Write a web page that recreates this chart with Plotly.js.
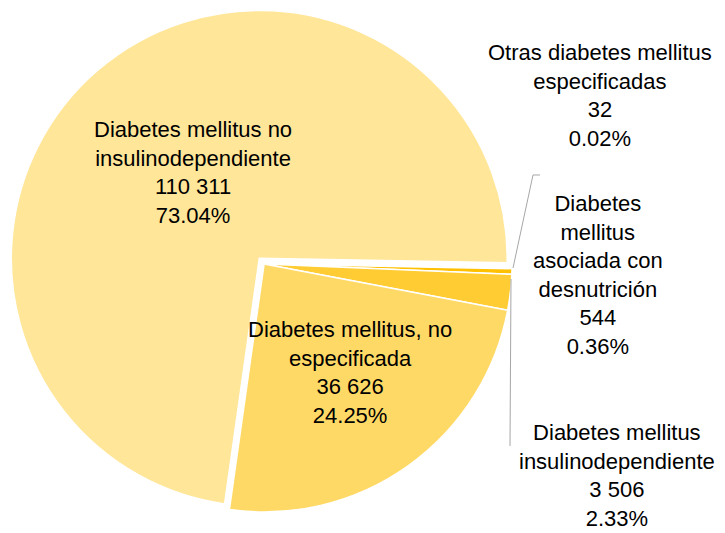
<!DOCTYPE html>
<html>
<head>
<meta charset="utf-8">
<script src="https://cdn.plot.ly/plotly-3.0.1.min.js"></script>
<style>html,body{margin:0;padding:0;background:#fff;}#chart{width:725px;height:533px;}</style>
</head>
<body>
<div id="chart"></div>
<script>
// Data (clockwise order starting at 3 o'clock)
const categories = [
  "Otras diabetes mellitus<br>especificadas",
  "Diabetes<br>mellitus<br>asociada con<br>desnutrición",
  "Diabetes mellitus<br>insulinodependiente",
  "Diabetes mellitus, no<br>especificada",
  "Diabetes mellitus no<br>insulinodependiente"
];
const counts = [32, 544, 3506, 36626, 110311];
const percents = [0.02, 0.36, 2.33, 24.25, 73.04];
const colors = ["#BF9000", "#FFC000", "#FFCC33", "#FFD966", "#FFE699"];

function fmtThousands(v) { return String(v).replace(/\B(?=(\d{3})+(?!\d))/g, " "); }
const labelTexts = categories.map((c, i) => c + "<br>" + fmtThousands(counts[i]) + "<br>" + percents[i].toFixed(2) + "%");

const FONT = "Arial, 'Liberation Sans', sans-serif";
const FS = 22;

const trace = {
  type: "pie",
  values: counts,
  labels: categories,
  textinfo: "none",
  sort: false,
  direction: "clockwise",
  rotation: 91,
  pull: [0, 0, 0, 0, 0.03],
  marker: {colors: colors, line: {color: "#ffffff", width: 1.5}},
  domain: {x: [0.0120, 0.7165], y: [0.0255, 0.9838]},
  hoverinfo: "skip",
  showlegend: false
};

// Label placement (pixel centres of each label block)
const labelPos = [
  {x: 600, y: 96},
  {x: 598, y: 275},
  {x: 617, y: 475},
  {x: 350, y: 372},
  {x: 193, y: 172}
];
const annotations = labelPos.map((p, i) => ({
  xref: "paper", yref: "paper",
  x: p.x / 725, y: 1 - p.y / 533,
  xanchor: "center", yanchor: "middle",
  text: labelTexts[i], showarrow: false, align: "center",
  font: {family: FONT, size: FS, color: "#000"}
}));

function pathPx(pts) {
  return pts.map((p, i) => (i ? "L" : "M") + (p[0] / 725).toFixed(5) + "," + (1 - p[1] / 533).toFixed(5)).join(" ");
}
const shapes = [
  {type: "path", xref: "paper", yref: "paper", path: pathPx([[540, 175], [533, 175], [513, 268]]), line: {color: "#A6A6A6", width: 1}},
  {type: "path", xref: "paper", yref: "paper", path: pathPx([[511, 279], [510, 446]]), line: {color: "#A6A6A6", width: 1}}
];

const layout = {
  width: 725, height: 533,
  margin: {l: 0, r: 0, t: 0, b: 0},
  paper_bgcolor: "#ffffff",
  font: {family: FONT, size: FS, color: "#000"},
  annotations: annotations,
  shapes: shapes,
  showlegend: false
};

Plotly.newPlot("chart", [trace], layout, {displayModeBar: false, staticPlot: true});
</script>
</body>
</html>
